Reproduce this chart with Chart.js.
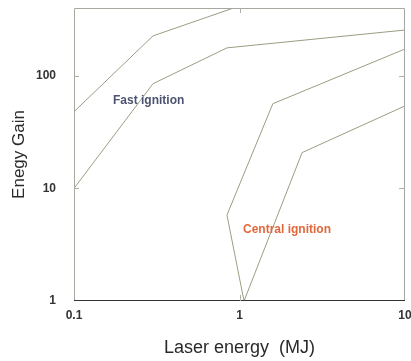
<!DOCTYPE html>
<html>
<head>
<meta charset="utf-8">
<script src="https://cdn.jsdelivr.net/npm/chart.js@4/dist/chart.umd.min.js"></script>
<style>
  html, body { margin: 0; padding: 0; background: #fff; }
  #wrap { width: 411px; height: 361px; }
</style>
</head>
<body>
<div id="wrap"><canvas id="chart" width="411" height="361"></canvas></div>
<script>
// ---- data ----
const xTicks = [0.1, 1, 10];
const yTicks = [1, 10, 100];

// fast ignition band (two curves)
const fastUpperE = [0.1, 0.3, 0.92];
const fastUpperG = [48, 226, 400];
const fastLowerE = [0.1, 0.3, 0.84, 10];
const fastLowerG = [10, 85, 177, 255];

// central ignition band (one closed-ish curve)
const centralE = [10, 1.59, 0.84, 1.065, 2.39, 10];
const centralG = [173, 56.5, 5.8, 1, 20.8, 54];

// region labels
const labelText = ['Fast ignition', 'Central ignition'];
const labelE = [0.172, 1.05];
const labelG = [60, 4.33];
const labelColor = ['#4c5370', '#e2683c'];

const lineColor = '#9c9c84';
const FONT = "'Liberation Sans Narrow', 'Liberation Sans', Arial, sans-serif";

function pts(xs, ys) {
  return xs.map((x, i) => ({ x, y: ys[i] }));
}

function series(xs, ys) {
  return {
    data: pts(xs, ys),
    showLine: true,
    borderColor: lineColor,
    borderWidth: 1,
    pointRadius: 0,
    tension: 0,
    fill: false
  };
}

// frame, inner ticks and region labels
const decor = {
  id: 'decor',
  afterDatasetsDraw(chart) {
    const { ctx, chartArea: a, scales } = chart;
    ctx.save();
    ctx.strokeStyle = '#a8a8a0';
    ctx.lineWidth = 1;
    ctx.beginPath();
    ctx.moveTo(a.left + 0.5, a.bottom);
    ctx.lineTo(a.left + 0.5, a.top + 0.5);
    ctx.lineTo(a.right - 0.5, a.top + 0.5);
    ctx.lineTo(a.right - 0.5, a.bottom);
    ctx.stroke();
    ctx.strokeStyle = '#333';
    ctx.beginPath();
    ctx.moveTo(a.left, a.bottom - 0.5);
    ctx.lineTo(a.right, a.bottom - 0.5);
    ctx.stroke();

    ctx.strokeStyle = '#b0b0a8';
    ctx.beginPath();
    yTicks.slice(1).forEach(v => {
      const y = Math.round(scales.y.getPixelForValue(v)) + 0.5;
      ctx.moveTo(a.left, y); ctx.lineTo(a.left + 5, y);
      ctx.moveTo(a.right, y); ctx.lineTo(a.right - 6, y);
    });
    const x1 = Math.round(scales.x.getPixelForValue(1)) + 0.5;
    ctx.moveTo(x1, a.top); ctx.lineTo(x1, a.top + 5);
    ctx.moveTo(x1, a.bottom); ctx.lineTo(x1, a.bottom - 6);
    ctx.stroke();

    ctx.font = "bold 12px " + FONT;
    ctx.textAlign = 'left';
    ctx.textBaseline = 'middle';
    labelText.forEach((t, i) => {
      ctx.fillStyle = labelColor[i];
      ctx.fillText(t, scales.x.getPixelForValue(labelE[i]), scales.y.getPixelForValue(labelG[i]));
    });
    ctx.restore();
  }
};

new Chart(document.getElementById('chart'), {
  type: 'scatter',
  data: {
    datasets: [
      series(fastUpperE, fastUpperG),
      series(fastLowerE, fastLowerG),
      series(centralE, centralG)
    ]
  },
  plugins: [decor],
  options: {
    responsive: false,
    animation: false,
    layout: { padding: { top: 8, right: 6, left: 0, bottom: 0 } },
    plugins: { legend: { display: false }, tooltip: { enabled: false } },
    scales: {
      x: {
        type: 'logarithmic',
        min: 0.1,
        max: 10,
        afterBuildTicks: s => { s.ticks = xTicks.map(v => ({ value: v })); },
        afterFit: s => { s.height = 60; s.paddingLeft = 0; s.paddingRight = 0; },
        grid: { display: false, tickLength: 0 },
        border: { display: false },
        ticks: {
          color: '#333',
          font: { family: FONT, size: 12, weight: 'bold' },
          padding: 7,
          maxRotation: 0,
          callback: v => String(v)
        },
        title: {
          display: true,
          text: 'Laser energy  (MJ)',
          color: '#2a2a2a',
          font: { family: FONT, size: 18 },
          padding: { top: 10, bottom: 2 }
        }
      },
      y: {
        type: 'logarithmic',
        min: 1,
        max: 400,
        afterBuildTicks: s => { s.ticks = yTicks.map(v => ({ value: v })); },
        afterFit: s => { s.width = 74; s.paddingTop = 0; s.paddingBottom = 0; },
        grid: { display: false, tickLength: 0 },
        border: { display: false },
        ticks: {
          color: '#333',
          font: { family: FONT, size: 12, weight: 'bold' },
          padding: 18,
          callback: v => String(v)
        },
        title: {
          display: true,
          text: 'Enegy Gain',
          color: '#2a2a2a',
          font: { family: FONT, size: 17 },
          padding: { top: 9, bottom: 0 }
        }
      }
    }
  }
});
</script>
</body>
</html>
